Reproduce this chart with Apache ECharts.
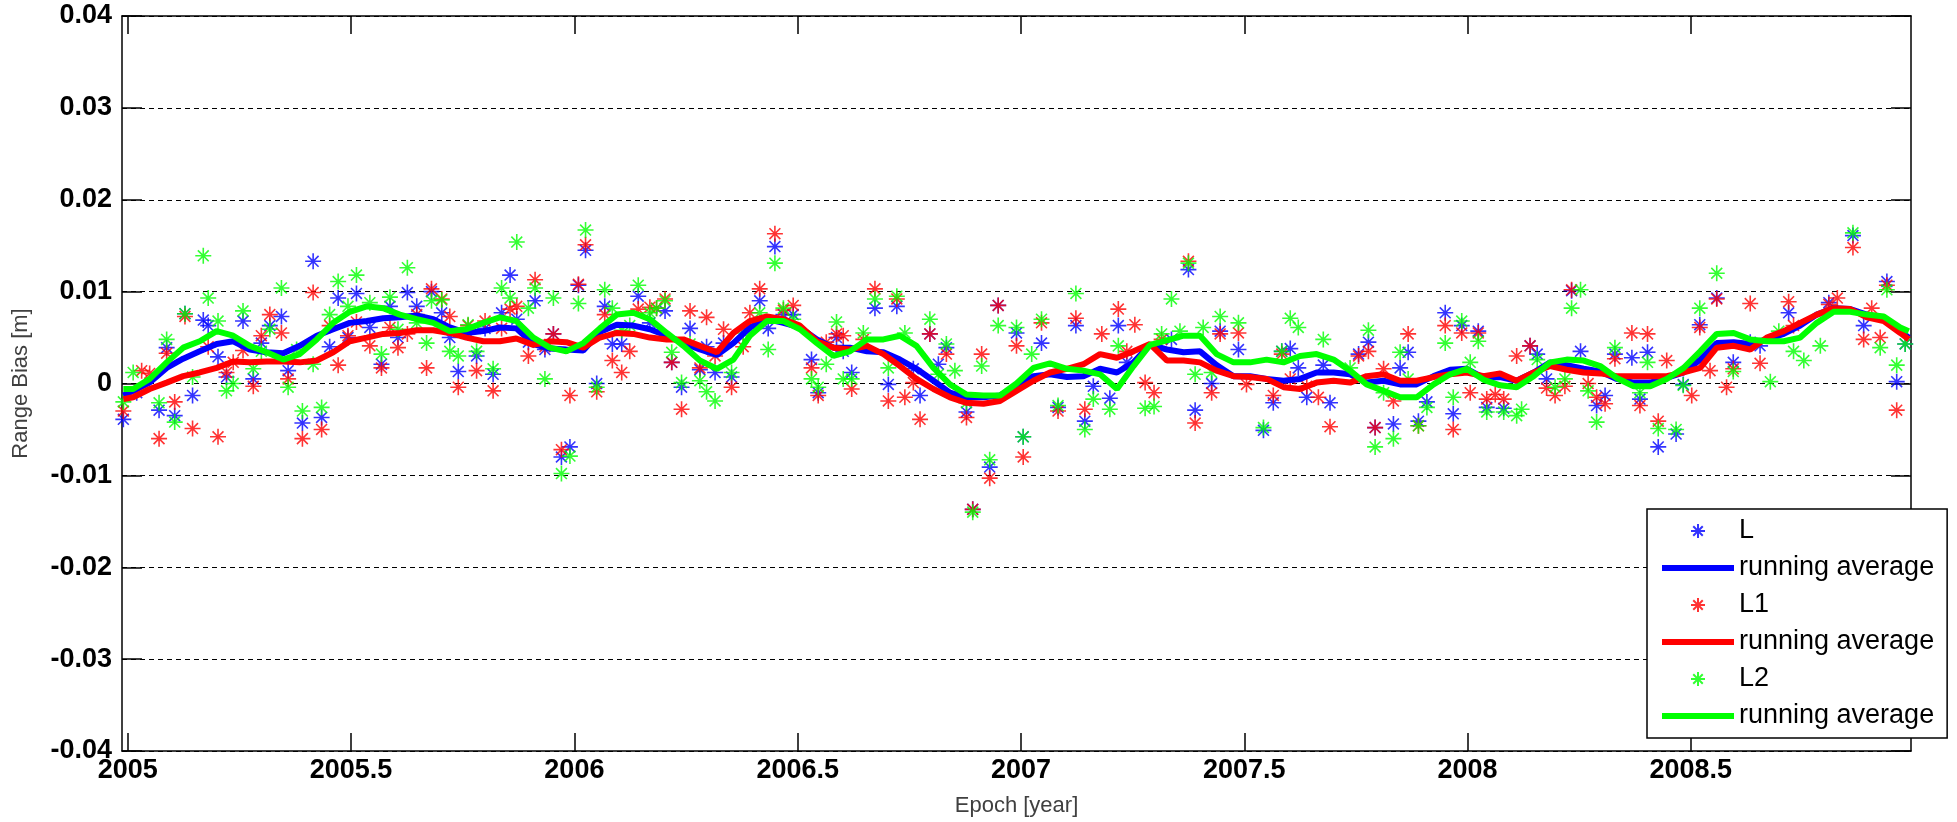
<!DOCTYPE html>
<html>
<head>
<meta charset="utf-8">
<script src="https://cdn.jsdelivr.net/npm/echarts@6/dist/echarts.min.js"></script>
<style>
  html, body { margin: 0; padding: 0; background: #fff; }
  #chart { width: 1957px; height: 822px; }
</style>
</head>
<body>
<div id="chart"></div>
<script>
// tick positions
const xTicks = [2005, 2005.5, 2006, 2006.5, 2007, 2007.5, 2008, 2008.5];

// scatter points [epoch (year), range bias (m)]
const lPoints = [[2004.990,-0.0039],[2005.020,-0.0010],[2005.070,-0.0029],[2005.087,0.0039],[2005.105,-0.0035],[2005.128,0.0076],[2005.145,-0.0013],[2005.169,0.0069],[2005.180,0.0063],[2005.202,0.0029],[2005.221,0.0007],[2005.258,0.0068],[2005.281,0.0005],[2005.299,0.0044],[2005.318,0.0063],[2005.344,0.0073],[2005.359,0.0014],[2005.391,-0.0043],[2005.415,0.0133],[2005.434,-0.0037],[2005.452,0.0040],[2005.471,0.0093],[2005.493,0.0050],[2005.512,0.0098],[2005.542,0.0061],[2005.568,0.0021],[2005.587,0.0084],[2005.605,0.0050],[2005.626,0.0099],[2005.647,0.0084],[2005.680,0.0100],[2005.703,0.0077],[2005.721,0.0050],[2005.740,0.0013],[2005.762,0.0055],[2005.781,0.0030],[2005.800,0.0060],[2005.818,0.0010],[2005.837,0.0077],[2005.856,0.0118],[2005.871,0.0070],[2005.897,0.0045],[2005.912,0.0090],[2005.934,0.0037],[2005.953,0.0054],[2005.971,-0.0080],[2005.990,-0.0069],[2006.009,0.0107],[2006.025,0.0145],[2006.050,0.0000],
  [2006.068,0.0084],[2006.085,0.0043],[2006.106,0.0043],[2006.143,0.0095],[2006.169,0.0066],[2006.203,0.0079],[2006.218,0.0023],[2006.240,-0.0004],[2006.259,0.0060],[2006.281,0.0015],[2006.296,0.0040],[2006.315,0.0012],[2006.334,0.0044],[2006.352,0.0007],[2006.393,0.0060],[2006.415,0.0090],[2006.434,0.0060],[2006.449,0.0149],[2006.468,0.0075],[2006.490,0.0075],[2006.531,0.0026],[2006.546,-0.0010],[2006.587,0.0050],[2006.602,0.0035],[2006.621,0.0012],[2006.673,0.0082],[2006.703,-0.0001],[2006.722,0.0084],[2006.759,0.0016],[2006.774,-0.0013],[2006.796,0.0054],[2006.815,0.0021],[2006.833,0.0039],[2006.878,-0.0031],[2006.892,-0.0137],[2006.930,-0.0091],[2006.949,0.0085],[2006.990,0.0055],[2007.005,-0.0058],
  [2007.046,0.0044],[2007.083,-0.0026],[2007.123,0.0063],[2007.143,-0.0041],[2007.162,-0.0003],[2007.199,-0.0016],[2007.218,0.0063],[2007.237,0.0023],[2007.337,0.0048],[2007.375,0.0124],[2007.390,-0.0029],[2007.427,0.0000],[2007.446,0.0057],[2007.487,0.0037],[2007.543,-0.0051],[2007.565,-0.0021],[2007.584,0.0035],[2007.603,0.0038],[2007.621,0.0017],[2007.640,-0.0015],[2007.677,0.0020],[2007.692,-0.0021],[2007.756,0.0032],[2007.778,0.0045],[2007.793,-0.0048],[2007.834,-0.0044],[2007.849,0.0017],[2007.867,0.0034],[2007.890,-0.0041],[2007.909,-0.0020],[2007.950,0.0077],[2007.968,-0.0033],[2007.987,0.0063],[2008.024,0.0057],[2008.043,-0.0026],
  [2008.081,-0.0027],[2008.140,0.0041],[2008.156,0.0032],[2008.177,0.0005],[2008.233,0.0101],[2008.253,0.0035],[2008.289,-0.0024],[2008.308,-0.0013],[2008.330,0.0032],[2008.368,0.0028],[2008.386,-0.0017],[2008.403,0.0034],[2008.427,-0.0069],[2008.467,-0.0055],[2008.483,-0.0001],[2008.520,0.0064],[2008.558,0.0093],[2008.595,0.0023],[2008.633,0.0045],[2008.655,0.0041],[2008.719,0.0077],[2008.809,0.0088],[2008.863,0.0161],[2008.887,0.0063],[2008.939,0.0111],[2008.961,0.0002],[2008.980,0.0043]];

const l1Points = [[2004.990,-0.0030],[2005.031,0.0014],[2005.049,0.0011],[2005.070,-0.0060],[2005.087,0.0033],[2005.105,-0.0020],[2005.128,0.0073],[2005.145,-0.0049],[2005.180,0.0040],[2005.202,-0.0058],[2005.221,0.0012],[2005.236,0.0023],[2005.258,0.0036],[2005.281,-0.0003],[2005.299,0.0052],[2005.318,0.0075],[2005.344,0.0055],[2005.359,0.0005],[2005.391,-0.0060],[2005.415,0.0099],[2005.434,-0.0050],[2005.452,0.0063],[2005.471,0.0020],[2005.493,0.0052],[2005.512,0.0067],[2005.542,0.0041],[2005.568,0.0017],[2005.587,0.0061],[2005.605,0.0039],[2005.626,0.0054],[2005.647,0.0075],[2005.669,0.0017],[2005.680,0.0103],[2005.703,0.0092],[2005.721,0.0073],[2005.740,-0.0004],[2005.762,0.0063],[2005.781,0.0014],[2005.800,0.0068],[2005.818,-0.0008],[2005.837,0.0060],[2005.856,0.0081],[2005.871,0.0084],[2005.897,0.0030],[2005.912,0.0113],[2005.934,0.0040],[2005.953,0.0054],[2005.971,-0.0072],[2005.990,-0.0013],[2006.009,0.0108],[2006.025,0.0151],[2006.050,-0.0009],
  [2006.068,0.0075],[2006.085,0.0025],[2006.106,0.0012],[2006.124,0.0035],[2006.143,0.0081],[2006.169,0.0083],[2006.184,0.0082],[2006.203,0.0092],[2006.218,0.0023],[2006.240,-0.0028],[2006.259,0.0079],[2006.281,0.0017],[2006.296,0.0072],[2006.315,0.0030],[2006.334,0.0059],[2006.352,-0.0004],[2006.378,0.0040],[2006.393,0.0077],[2006.415,0.0103],[2006.449,0.0163],[2006.468,0.0080],[2006.490,0.0085],[2006.531,0.0017],[2006.546,-0.0013],[2006.564,0.0045],[2006.587,0.0054],[2006.602,0.0052],[2006.621,-0.0006],[2006.647,0.0048],[2006.673,0.0103],[2006.703,-0.0019],[2006.722,0.0092],[2006.740,-0.0015],[2006.759,0.0001],[2006.774,-0.0039],[2006.796,0.0054],[2006.833,0.0032],[2006.878,-0.0037],[2006.892,-0.0137],[2006.912,0.0032],[2006.930,-0.0103],[2006.949,0.0085],[2006.990,0.0041],[2007.005,-0.0080],
  [2007.046,0.0066],[2007.083,-0.0030],[2007.123,0.0071],[2007.143,-0.0028],[2007.181,0.0054],[2007.218,0.0081],[2007.237,0.0035],[2007.255,0.0064],[2007.278,0.0001],[2007.298,-0.0010],[2007.315,0.0048],[2007.375,0.0133],[2007.390,-0.0043],[2007.427,-0.0010],[2007.446,0.0054],[2007.487,0.0055],[2007.505,-0.0001],[2007.565,-0.0013],[2007.584,0.0032],[2007.603,0.0005],[2007.640,-0.0003],[2007.666,-0.0015],[2007.692,-0.0047],[2007.756,0.0030],[2007.778,0.0035],[2007.793,-0.0048],[2007.812,0.0016],[2007.834,-0.0019],[2007.867,0.0054],[2007.890,-0.0046],[2007.950,0.0063],[2007.968,-0.0050],[2007.987,0.0055],[2008.006,-0.0010],[2008.024,0.0055],[2008.043,-0.0017],
  [2008.062,-0.0012],[2008.081,-0.0017],[2008.110,0.0030],[2008.140,0.0041],[2008.177,-0.0005],[2008.196,-0.0013],[2008.218,-0.0003],[2008.233,0.0102],[2008.270,0.0000],[2008.289,-0.0015],[2008.308,-0.0022],[2008.330,0.0027],[2008.368,0.0055],[2008.386,-0.0024],[2008.403,0.0054],[2008.427,-0.0041],[2008.446,0.0025],[2008.502,-0.0013],[2008.520,0.0061],[2008.543,0.0014],[2008.558,0.0092],[2008.580,-0.0004],[2008.595,0.0016],[2008.633,0.0087],[2008.655,0.0022],[2008.719,0.0089],[2008.730,0.0063],[2008.809,0.0086],[2008.828,0.0093],[2008.863,0.0148],[2008.887,0.0048],[2008.905,0.0082],[2008.924,0.0050],[2008.939,0.0107],[2008.961,-0.0029]];

const l2Points = [[2004.990,-0.0020],[2005.012,0.0012],[2005.070,-0.0021],[2005.087,0.0048],[2005.105,-0.0042],[2005.128,0.0076],[2005.145,0.0007],[2005.169,0.0139],[2005.180,0.0093],[2005.202,0.0068],[2005.221,-0.0008],[2005.236,0.0000],[2005.258,0.0079],[2005.281,0.0016],[2005.299,0.0035],[2005.318,0.0059],[2005.344,0.0104],[2005.359,-0.0004],[2005.378,0.0037],[2005.391,-0.0030],[2005.415,0.0021],[2005.434,-0.0026],[2005.452,0.0075],[2005.471,0.0111],[2005.493,0.0084],[2005.512,0.0118],[2005.542,0.0088],[2005.568,0.0032],[2005.587,0.0094],[2005.605,0.0059],[2005.626,0.0126],[2005.647,0.0066],[2005.669,0.0044],[2005.680,0.0090],[2005.703,0.0091],[2005.721,0.0035],[2005.740,0.0030],[2005.762,0.0064],[2005.781,0.0035],[2005.818,0.0016],[2005.837,0.0104],[2005.856,0.0093],[2005.871,0.0154],[2005.897,0.0082],[2005.912,0.0104],[2005.934,0.0005],[2005.953,0.0093],[2005.971,-0.0098],[2005.990,-0.0079],[2006.009,0.0087],[2006.025,0.0167],[2006.050,-0.0004],
  [2006.068,0.0102],[2006.085,0.0082],[2006.106,0.0058],[2006.124,0.0063],[2006.143,0.0107],[2006.169,0.0077],[2006.184,0.0082],[2006.203,0.0090],[2006.218,0.0034],[2006.240,0.0001],[2006.259,0.0043],[2006.281,0.0003],[2006.296,-0.0009],[2006.315,-0.0019],[2006.352,0.0012],[2006.378,0.0055],[2006.415,0.0077],[2006.434,0.0037],[2006.449,0.0131],[2006.468,0.0082],[2006.490,0.0070],[2006.531,0.0005],[2006.546,-0.0004],[2006.564,0.0021],[2006.587,0.0067],[2006.602,0.0005],[2006.621,0.0005],[2006.647,0.0055],[2006.673,0.0092],[2006.703,0.0017],[2006.722,0.0095],[2006.740,0.0055],[2006.796,0.0070],[2006.815,0.0010],[2006.833,0.0043],[2006.852,0.0014],[2006.878,-0.0021],[2006.892,-0.0140],[2006.912,0.0019],[2006.930,-0.0083],[2006.949,0.0063],[2006.990,0.0061],[2007.005,-0.0058],[2007.024,0.0032],
  [2007.046,0.0070],[2007.083,-0.0024],[2007.123,0.0098],[2007.143,-0.0050],[2007.162,-0.0017],[2007.199,-0.0028],[2007.218,0.0041],[2007.278,-0.0027],[2007.298,-0.0025],[2007.315,0.0054],[2007.337,0.0092],[2007.356,0.0057],[2007.375,0.0131],[2007.390,0.0010],[2007.408,0.0061],[2007.427,0.0012],[2007.446,0.0073],[2007.487,0.0066],[2007.543,-0.0048],[2007.584,0.0035],[2007.603,0.0071],[2007.621,0.0061],[2007.677,0.0048],[2007.737,0.0017],[2007.778,0.0058],[2007.793,-0.0069],[2007.812,-0.0010],[2007.834,-0.0060],[2007.849,0.0034],[2007.867,0.0005],[2007.890,-0.0046],[2007.909,-0.0026],[2007.950,0.0044],[2007.968,-0.0015],[2007.987,0.0068],[2008.006,0.0023],[2008.024,0.0046],[2008.043,-0.0031],
  [2008.081,-0.0031],[2008.110,-0.0035],[2008.121,-0.0028],[2008.156,0.0026],[2008.196,-0.0004],[2008.218,0.0005],[2008.233,0.0082],[2008.253,0.0102],[2008.270,-0.0008],[2008.289,-0.0042],[2008.330,0.0039],[2008.386,-0.0010],[2008.403,0.0023],[2008.427,-0.0049],[2008.467,-0.0050],[2008.483,-0.0002],[2008.520,0.0082],[2008.558,0.0120],[2008.595,0.0013],[2008.678,0.0002],[2008.697,0.0057],[2008.730,0.0035],[2008.753,0.0025],[2008.790,0.0041],[2008.863,0.0164],[2008.924,0.0039],[2008.939,0.0102],[2008.961,0.0020],[2008.980,0.0043]];

// running averages, sampled at these epochs
const avgYears = [2004.990,2005.012,2005.049,2005.087,2005.124,2005.161,2005.199,2005.236,2005.273,2005.311,2005.348,2005.385,2005.423,2005.460,2005.497,2005.535,2005.572,2005.609,2005.647,2005.684,2005.721,2005.758,2005.796,2005.833,2005.870,2005.908,2005.945,2005.982,2006.020,2006.057,
  2006.095,2006.132,2006.169,2006.207,2006.244,2006.281,2006.319,2006.356,2006.393,2006.431,2006.468,2006.505,2006.543,2006.580,2006.617,2006.655,2006.692,2006.729,2006.766,2006.804,2006.841,2006.878,2006.916,2006.953,2006.990,2007.028,2007.065,
  2007.103,2007.140,2007.177,2007.215,2007.252,2007.289,2007.327,2007.364,2007.401,2007.438,2007.476,2007.513,2007.550,2007.588,2007.625,2007.662,2007.700,2007.737,2007.774,2007.812,2007.849,2007.886,2007.924,2007.961,2007.998,2008.036,2008.073,
  2008.110,2008.148,2008.185,2008.222,2008.260,2008.297,2008.334,2008.372,2008.409,2008.446,2008.484,2008.521,2008.558,2008.596,2008.633,2008.670,2008.708,2008.745,2008.782,2008.820,2008.857,2008.894,2008.932,2008.969,2008.988];

const lAvg = [-0.0013,-0.0008,0.0001,0.0017,0.0027,0.0035,0.0043,0.0046,0.0037,0.0034,0.0033,0.0041,0.0052,0.0059,0.0066,0.0068,0.0071,0.0072,0.0074,0.0070,0.0061,0.0055,0.0057,0.0061,0.0060,0.0043,0.0038,0.0037,0.0036,0.0056,
  0.0064,0.0063,0.0059,0.0052,0.0044,0.0037,0.0031,0.0044,0.0061,0.0070,0.0066,0.0061,0.0048,0.0039,0.0039,0.0035,0.0034,0.0026,0.0016,0.0003,-0.0010,-0.0015,-0.0015,-0.0013,-0.0003,0.0008,0.0010,
  0.0007,0.0008,0.0016,0.0012,0.0023,0.0042,0.0037,0.0034,0.0035,0.0020,0.0008,0.0008,0.0005,0.0003,0.0005,0.0012,0.0012,0.0010,0.0001,0.0003,-0.0001,-0.0001,0.0008,0.0015,0.0016,0.0006,0.0007,
  0.0003,0.0012,0.0023,0.0020,0.0016,0.0013,0.0005,0.0001,0.0001,0.0006,0.0012,0.0026,0.0044,0.0045,0.0043,0.0048,0.0054,0.0063,0.0075,0.0082,0.0081,0.0075,0.0072,0.0057,0.0050];

const l1Avg = [-0.0017,-0.0015,-0.0006,0.0001,0.0008,0.0012,0.0017,0.0024,0.0023,0.0024,0.0024,0.0023,0.0025,0.0034,0.0046,0.0050,0.0054,0.0055,0.0058,0.0058,0.0055,0.0050,0.0046,0.0046,0.0049,0.0042,0.0046,0.0045,0.0039,0.0050,
  0.0055,0.0054,0.0050,0.0048,0.0048,0.0041,0.0034,0.0055,0.0068,0.0073,0.0070,0.0063,0.0046,0.0039,0.0037,0.0041,0.0032,0.0019,0.0005,-0.0006,-0.0015,-0.0021,-0.0022,-0.0019,-0.0008,0.0003,0.0012,
  0.0016,0.0021,0.0032,0.0028,0.0035,0.0043,0.0025,0.0025,0.0023,0.0014,0.0008,0.0007,0.0005,-0.0004,-0.0006,0.0001,0.0003,0.0001,0.0008,0.0010,0.0003,0.0003,0.0007,0.0010,0.0012,0.0008,0.0011,
  0.0003,0.0012,0.0019,0.0015,0.0012,0.0011,0.0008,0.0008,0.0008,0.0008,0.0012,0.0017,0.0039,0.0041,0.0037,0.0050,0.0057,0.0066,0.0075,0.0082,0.0081,0.0072,0.0068,0.0055,0.0048];

const l2Avg = [-0.0006,-0.0006,0.0005,0.0023,0.0039,0.0046,0.0057,0.0052,0.0041,0.0034,0.0026,0.0032,0.0048,0.0066,0.0078,0.0084,0.0082,0.0075,0.0070,0.0066,0.0057,0.0059,0.0066,0.0072,0.0068,0.0050,0.0039,0.0035,0.0044,0.0060,
  0.0075,0.0077,0.0070,0.0055,0.0041,0.0025,0.0016,0.0026,0.0052,0.0068,0.0068,0.0059,0.0044,0.0030,0.0035,0.0048,0.0048,0.0052,0.0041,0.0017,-0.0001,-0.0012,-0.0013,-0.0013,0.0000,0.0017,0.0022,
  0.0016,0.0014,0.0010,-0.0006,0.0019,0.0042,0.0047,0.0052,0.0052,0.0032,0.0023,0.0023,0.0026,0.0023,0.0030,0.0032,0.0026,0.0014,-0.0001,-0.0008,-0.0015,-0.0015,-0.0001,0.0010,0.0016,0.0004,-0.0002,
  -0.0004,0.0008,0.0023,0.0026,0.0025,0.0019,0.0006,-0.0003,-0.0003,0.0005,0.0017,0.0035,0.0054,0.0055,0.0048,0.0046,0.0046,0.0050,0.0066,0.0078,0.0078,0.0075,0.0073,0.0061,0.0057];

const BLUE = '#0000ff', RED = '#ff0000', GREEN = '#00ff00';
const starPath = 'path://M5,0L5,10M0,5L10,5M1.6,1.6L8.4,8.4M1.6,8.4L8.4,1.6';
const barIcon = 'path://M0,0L72,0L72,6L0,6Z';
const font = 'Liberation Sans, Arial, sans-serif';

function starSeries(name, pts, color) {
  return {
    name: name, type: 'scatter', data: pts,
    symbol: starPath, symbolSize: 16,
    itemStyle: {color: 'transparent', borderColor: color, borderWidth: 1.6},
    emphasis: {disabled: true}
  };
}
function avgSeries(name, vals, color) {
  return {
    name: name, type: 'line', showSymbol: false, symbol: 'none',
    data: avgYears.map((y, i) => [y, vals[i]]),
    lineStyle: {color: color, width: 6}, itemStyle: {color: color},
    emphasis: {disabled: true}
  };
}

const chart = echarts.init(document.getElementById('chart'));
const axisLine = {show: true, onZero: false, lineStyle: {color: '#000', width: 1.5}};
chart.setOption({
  animation: false,
  backgroundColor: '#fff',
  textStyle: {fontFamily: font},
  grid: {left: 122, right: 46, top: 16, bottom: 71},
  xAxis: [{
    type: 'value', min: 2004.987, max: 2008.993, position: 'bottom',
    name: 'Epoch [year]', nameLocation: 'middle', nameGap: 44,
    nameTextStyle: {fontSize: 22, color: '#404040', fontFamily: font},
    axisLine: axisLine,
    axisTick: {inside: true, length: 18, customValues: xTicks, lineStyle: {color: '#000', width: 1.5}},
    axisLabel: {customValues: xTicks, formatter: v => String(v), fontSize: 27, fontWeight: 'bold',
      color: '#000', margin: 6, fontFamily: font},
    splitLine: {show: false}
  }, {
    type: 'value', min: 2004.987, max: 2008.993, position: 'top',
    axisLine: axisLine,
    axisTick: {inside: true, length: 18, customValues: xTicks, lineStyle: {color: '#000', width: 1.5}},
    axisLabel: {show: false}, splitLine: {show: false}
  }],
  yAxis: [{
    type: 'value', min: -0.04, max: 0.04, interval: 0.01, position: 'left',
    name: 'Range Bias [m]', nameLocation: 'middle', nameGap: 90, nameRotate: 90,
    nameTextStyle: {fontSize: 22, color: '#404040', fontFamily: font},
    axisLine: axisLine,
    axisTick: {inside: true, length: 20, lineStyle: {color: '#000', width: 1.5}},
    axisLabel: {formatter: v => String(+v.toFixed(2)), fontSize: 27, fontWeight: 'bold',
      color: '#000', margin: 10, fontFamily: font},
    splitLine: {show: true, lineStyle: {color: '#000', width: 1, type: [5, 4]}}
  }, {
    type: 'value', min: -0.04, max: 0.04, interval: 0.01, position: 'right',
    axisLine: axisLine,
    axisTick: {inside: true, length: 20, lineStyle: {color: '#000', width: 1.5}},
    axisLabel: {show: false}, splitLine: {show: false}
  }],
  legend: {
    orient: 'vertical', left: 1647, top: 509,
    data: [
      'L',
      {name: 'avgL', icon: barIcon, itemStyle: {color: BLUE}},
      'L1',
      {name: 'avgL1', icon: barIcon, itemStyle: {color: RED}},
      'L2',
      {name: 'avgL2', icon: barIcon, itemStyle: {color: GREEN}}
    ],
    formatter: n => n.startsWith('avg') ? 'running average' : n,
    itemWidth: 72, itemHeight: 14, itemGap: 7,
    padding: [7, 13, 7, 15],
    backgroundColor: '#fff', borderColor: '#000', borderWidth: 1.5, borderRadius: 0,
    textStyle: {fontSize: 27, color: '#000', lineHeight: 30, fontFamily: font},
    selectedMode: false
  },
  series: [
    starSeries('L', lPoints, BLUE),
    avgSeries('avgL', lAvg, BLUE),
    starSeries('L1', l1Points, RED),
    avgSeries('avgL1', l1Avg, RED),
    starSeries('L2', l2Points, GREEN),
    avgSeries('avgL2', l2Avg, GREEN)
  ]
});
</script>
</body>
</html>
